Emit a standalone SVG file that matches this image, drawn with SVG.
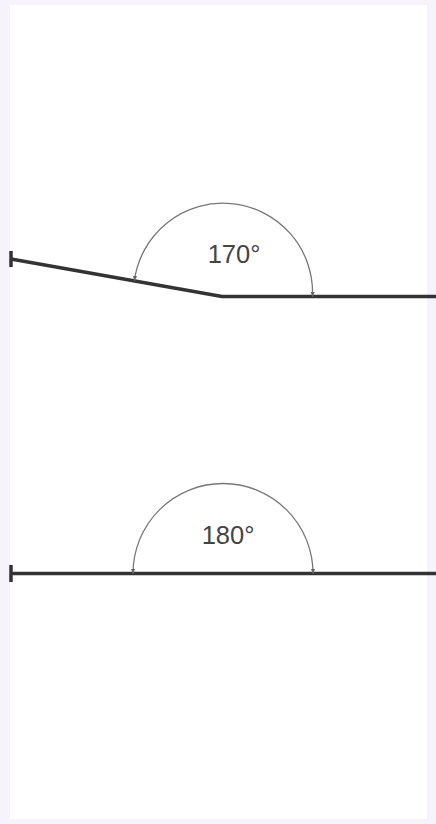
<svg xmlns="http://www.w3.org/2000/svg" width="436" height="824" viewBox="0 0 436 824">
<style>
.ray{stroke:#333;stroke-width:3.5;fill:none;stroke-linejoin:round}
.tick{stroke:#333;stroke-width:3.5}
.arc{stroke:#777;stroke-width:1.3;fill:none}
.lbl{font-family:"Liberation Sans",Arial,sans-serif;font-size:25.5px;fill:#444;text-anchor:middle}
</style>
<defs>
<marker id="ah" viewBox="0 0 6 6" refX="5.5" refY="3" markerWidth="5" markerHeight="5" orient="auto-start-reverse" markerUnits="userSpaceOnUse">
<path d="M0,0.5 L6,3 L0,5.5 Z" fill="#666"/>
</marker>
</defs>
<rect width="436" height="824" fill="#f7f3fa"/>
<rect x="10" y="5" width="417" height="814" fill="#ffffff"/>
<g id="angle170">
<path class="ray" d="M11,259 L222,296.5 L436,296.5"/>
<line class="tick" x1="11" y1="251" x2="11" y2="267"/>
<path class="arc" d="M134.4,280.6 A89.5,89.5 0 0 1 312.5,296.5" marker-start="url(#ah)" marker-end="url(#ah)"/>
<text class="lbl" x="234" y="263">170°</text>
</g>
<g id="angle180">
<path class="ray" d="M11,573.5 L436,573.5"/>
<line class="tick" x1="11" y1="565" x2="11" y2="582"/>
<path class="arc" d="M133,573.5 A90,90 0 0 1 313,573.5" marker-start="url(#ah)" marker-end="url(#ah)"/>
<text class="lbl" x="228" y="544">180°</text>
</g>
</svg>
